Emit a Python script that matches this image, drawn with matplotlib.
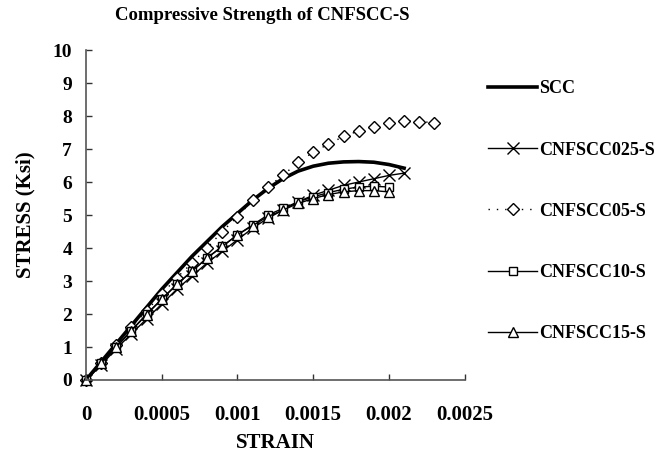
import matplotlib
matplotlib.use('Agg')
from matplotlib import pyplot as plt

# 應變 (strain) 及各組應力 (stress, Ksi)
strain = [0.0000, 0.0001, 0.0002, 0.0003, 0.0004, 0.0005, 0.0006, 0.0007, 0.0008,
          0.0009, 0.0010, 0.0011, 0.0012, 0.0013, 0.0014, 0.0015, 0.0016, 0.0017,
          0.0018, 0.0019, 0.0020, 0.0021, 0.0022, 0.0023]

scc = [0, 0.55, 1.1, 1.65, 2.2, 2.75, 3.25, 3.75, 4.2, 4.65, 5.05, 5.45, 5.8, 6.1,
       6.33, 6.48, 6.57, 6.61, 6.62, 6.6, 6.53, 6.42]
cnf025 = [0, 0.45, 0.95, 1.4, 1.85, 2.3, 2.75, 3.15, 3.55, 3.9, 4.25, 4.6, 4.9, 5.15,
          5.4, 5.6, 5.75, 5.9, 6.0, 6.1, 6.2, 6.27]
cnf05 = [0, 0.5, 1.05, 1.6, 2.1, 2.6, 3.1, 3.55, 4.0, 4.5, 4.95, 5.45, 5.85, 6.2,
         6.6, 6.9, 7.15, 7.38, 7.55, 7.68, 7.78, 7.85, 7.83, 7.8]
cnf10 = [0, 0.5, 1.0, 1.5, 2.0, 2.45, 2.9, 3.3, 3.7, 4.05, 4.4, 4.7, 5.0, 5.2, 5.4,
         5.55, 5.68, 5.78, 5.85, 5.87, 5.85]
cnf15 = [0, 0.5, 1.0, 1.5, 1.98, 2.45, 2.9, 3.3, 3.7, 4.05, 4.4, 4.68, 4.95, 5.15,
         5.35, 5.5, 5.62, 5.7, 5.74, 5.74, 5.7]

xticks = [0, 0.0005, 0.001, 0.0015, 0.002, 0.0025]
xtick_labels = ['0', '0.0005', '0.001', '0.0015', '0.002', '0.0025']
yticks = list(range(0, 11))

plt.rcParams['font.family'] = ['Liberation Serif', 'DejaVu Serif']
plt.rcParams['font.weight'] = 'bold'

fig = plt.figure(figsize=(6.68, 4.57), dpi=100)
ax = fig.add_axes([0.1287, 0.1685, 0.567, 0.722])

ax.plot(strain[:len(scc)], scc, c='black', lw=2.6, label='SCC', clip_on=False)
ax.plot(strain[:len(cnf025)], cnf025, c='black', lw=1, marker='x', ms=9, mew=1,
        label='CNFSCC025-S', clip_on=False)
ax.plot(strain[:len(cnf05)], cnf05, c='black', lw=1, ls=(0, (1, 5)), marker='D', ms=6.5,
        mfc='white', mew=1, label='CNFSCC05-S', clip_on=False)
ax.plot(strain[:len(cnf10)], cnf10, c='black', lw=1, marker='s', ms=6, mfc='white',
        mew=1, label='CNFSCC10-S', clip_on=False)
ax.plot(strain[:len(cnf15)], cnf15, c='black', lw=1, marker='^', ms=6.5, mfc='white',
        mew=1, label='CNFSCC15-S', clip_on=False)

ax.set_xlim(0, 0.0025)
ax.set_ylim(0, 10)
ax.set_xticks(xticks)
ax.set_xticklabels(xtick_labels)
ax.set_yticks(yticks)
ax.tick_params(direction='in', length=4, width=1, labelsize=14, colors='#333333',
               labelcolor='black')
ax.tick_params(axis='x', pad=18, labelsize=15)
ax.tick_params(axis='y', pad=10)
for s in ['top', 'right']:
    ax.spines[s].set_visible(False)
for s in ['left', 'bottom']:
    ax.spines[s].set_color('#555555')
    ax.spines[s].set_linewidth(1.2)

ax.set_xlabel('STRAIN', fontsize=15, fontweight='bold', labelpad=6)
ax.set_ylabel('STRESS (Ksi)', fontsize=15, fontweight='bold', labelpad=12)
fig.text(0.392, 0.965, 'Compressive Strength of CNFSCC-S', ha='center', va='center',
         fontsize=13.5, fontweight='bold')

leg = ax.legend(loc='upper left', bbox_to_anchor=(0.72, 0.84),
                bbox_transform=fig.transFigure, frameon=False, fontsize=13,
                labelspacing=2.45, handlelength=2.7, handletextpad=0.12,
                borderaxespad=0)

fig.savefig('out.png', dpi=100)
